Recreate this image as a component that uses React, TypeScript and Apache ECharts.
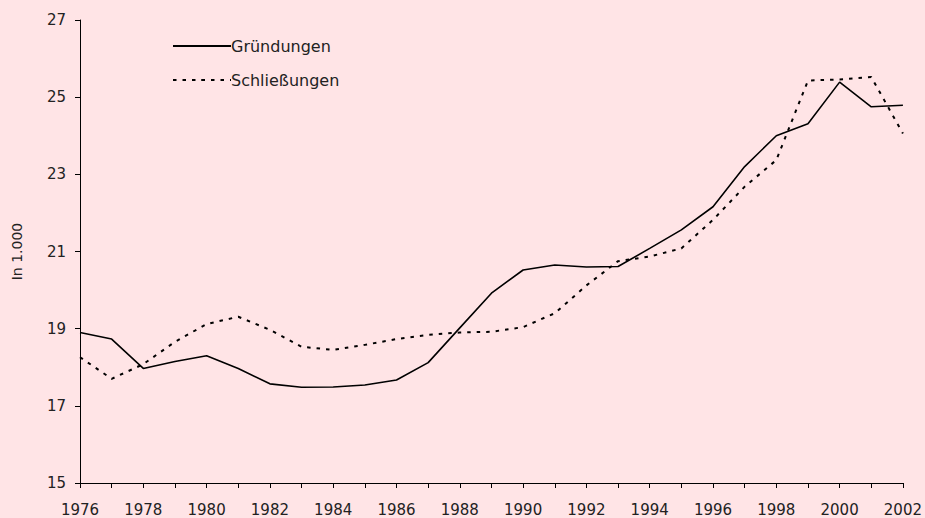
import React, { useEffect, useRef } from "react";
import * as echarts from "echarts";

const years = [
  "1976","1977","1978","1979","1980","1981","1982","1983","1984","1985","1986","1987","1988",
  "1989","1990","1991","1992","1993","1994","1995","1996","1997","1998","1999","2000","2001","2002",
];
const gruendungen = [
  18.9, 18.73, 17.97, 18.15, 18.3, 17.97, 17.57, 17.48, 17.49, 17.54, 17.67, 18.12, 19.02,
  19.92, 20.52, 20.65, 20.6, 20.61, 21.08, 21.56, 22.16, 23.2, 24.0, 24.31, 25.39, 24.75, 24.79,
];
const schliessungen = [
  18.26, 17.7, 18.08, 18.66, 19.12, 19.31, 18.97, 18.53, 18.45, 18.58, 18.73, 18.84, 18.9,
  18.92, 19.04, 19.4, 20.12, 20.75, 20.87, 21.08, 21.82, 22.68, 23.37, 25.43, 25.46, 25.52, 24.06,
];
const seriesNames = ["Gründungen", "Schließungen"];
const yAxisName = "In 1.000";

const FONT = "DejaVu Sans";

export default function App() {
  const ref = useRef<HTMLDivElement>(null);
  useEffect(() => {
    document.body.style.margin = "0";
    const chart = echarts.init(ref.current!, null, { renderer: "svg" });
    chart.setOption({
      animation: false,
      backgroundColor: "#ffe4e6",
      textStyle: { fontFamily: FONT },
      grid: { left: 80, right: 21, top: 20, bottom: 35, containLabel: false },
      legend: {
        orient: "vertical",
        left: 167,
        top: 33,
        itemWidth: 58,
        itemHeight: 2,
        itemGap: 18,
        data: seriesNames,
        textStyle: { fontFamily: FONT, fontSize: 16, color: "#222", padding: [0, 0, 0, -5] },
      },
      xAxis: {
        type: "category",
        data: years,
        boundaryGap: false,
        axisLine: { lineStyle: { color: "#000", width: 1 } },
        axisTick: { interval: 0, length: 5, lineStyle: { color: "#000" } },
        axisLabel: { interval: 1, fontSize: 15, color: "#222", margin: 19, fontFamily: FONT },
        splitLine: { show: false },
      },
      yAxis: {
        type: "value",
        min: 15,
        max: 27,
        interval: 2,
        name: yAxisName,
        nameLocation: "middle",
        nameGap: 56,
        nameTextStyle: { fontSize: 14, color: "#222", fontFamily: FONT },
        axisLine: { show: true, lineStyle: { color: "#000", width: 1 } },
        axisTick: { show: true, length: 5, lineStyle: { color: "#000" } },
        axisLabel: { fontSize: 15, color: "#222", margin: 14, fontFamily: FONT },
        splitLine: { show: false },
      },
      series: [
        {
          name: seriesNames[0],
          type: "line",
          data: gruendungen,
          symbol: "none",
          lineStyle: { color: "#000", width: 1.6, type: "solid" },
          itemStyle: { color: "#000" },
        },
        {
          name: seriesNames[1],
          type: "line",
          data: schliessungen,
          symbol: "none",
          lineStyle: { color: "#000", width: 2, type: [3.5, 6] },
          itemStyle: { color: "#000" },
        },
      ],
    });
    return () => chart.dispose();
  }, []);
  return <div ref={ref} style={{ width: 925, height: 518 }} />;
}
